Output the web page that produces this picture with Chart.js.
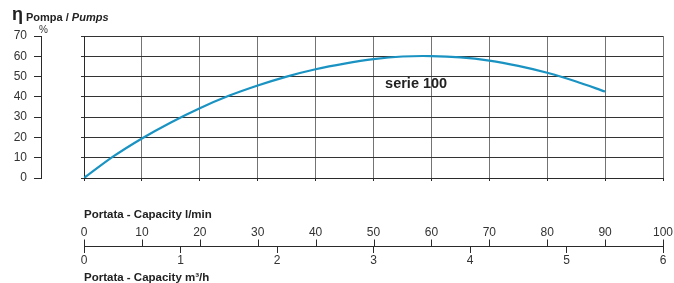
<!DOCTYPE html>
<html lang="it">
  <head>
    <meta charset="UTF-8" />
    <title>Pompa serie 100</title>
    <style>
      html,
      body {
        margin: 0;
        padding: 0;
        background: #fff;
      }
      canvas {
        display: block;
      }
    </style>
  </head>
  <body>
    <canvas id="curve" width="674" height="283"></canvas>

    <script src="https://cdn.jsdelivr.net/npm/chart.js@4.4.1/dist/chart.umd.min.js"></script>
    <script>
      // Efficiency curve
      const flowLmin = [0, 5, 10, 15, 20, 25, 30, 35, 40, 45, 50, 55, 60, 65, 70, 75, 80, 85, 90];
      const efficiency = [0, 10.5, 19.5, 27.4, 34.4, 40.5, 45.6, 50, 53.6, 56.4, 58.6, 59.9, 60.1, 59.5, 57.9, 55.3, 51.9, 47.6, 42.6];
      const seriesName = "serie 100";

      // Axis ticks
      const pctTicks = [0, 10, 20, 30, 40, 50, 60, 70];
      const lminTicks = [0, 10, 20, 30, 40, 50, 60, 70, 80, 90, 100];
      const m3hTicks = [0, 1, 2, 3, 4, 5, 6];

      const FONT = '"Liberation Sans", Arial, sans-serif';
      const textColor = "#333";
      const darkLine = "#2a2a2a";

      const useTicks = (list) => (scale) => {
        scale.ticks = list.map((v) => ({ value: v }));
      };

      // titles, % sign, series label and the upward l/min ticks
      const extras = {
        id: "extras",
        afterDraw(chart) {
          const ctx = chart.ctx;
          const { x, xm, y } = chart.scales;
          ctx.save();
          ctx.fillStyle = "#222";
          ctx.textBaseline = "alphabetic";
          ctx.textAlign = "left";

          ctx.font = "bold 18px " + FONT;
          ctx.fillText("η", 12, 20);
          ctx.font = "bold 11px " + FONT;
          ctx.fillText("Pompa / ", 26, 20.5);
          const w = ctx.measureText("Pompa / ").width;
          ctx.font = "italic bold 11px " + FONT;
          ctx.fillText("Pumps", 26 + w, 20.5);

          ctx.fillStyle = textColor;
          ctx.font = "10px " + FONT;
          ctx.fillText("%", 39, 33);

          ctx.fillStyle = "#222";
          ctx.font = "bold 14.5px " + FONT;
          ctx.textBaseline = "middle";
          ctx.fillText(seriesName, x.getPixelForValue(52), y.getPixelForValue(46.3));

          // upward ticks of the l/min scale on the lower axis line
          ctx.strokeStyle = darkLine;
          ctx.lineWidth = 1;
          ctx.beginPath();
          for (const v of lminTicks) {
            const px = Math.round(x.getPixelForValue(v)) + 0.5;
            ctx.moveTo(px, xm.top - 6.5);
            ctx.lineTo(px, xm.top);
          }
          ctx.stroke();

          ctx.textBaseline = "alphabetic";
          ctx.font = "bold 11.5px " + FONT;
          ctx.fillText("Portata - Capacity l/min", x.left, 217.5);
          ctx.restore();
        },
      };

      new Chart(document.getElementById("curve"), {
        type: "line",
        plugins: [extras],
        data: {
          datasets: [
            {
              label: seriesName,
              data: flowLmin.map((q, i) => ({ x: q, y: efficiency[i] })),
              borderColor: "#1a93c2",
              borderWidth: 2.2,
              pointRadius: 0,
              tension: 0.3,
              fill: false,
            },
          ],
        },
        options: {
          responsive: false,
          animation: false,
          layout: { padding: { top: 36, right: 11, bottom: 0, left: 0 } },
          plugins: {
            legend: { display: false },
            tooltip: { enabled: false },
          },
          scales: {
            x: {
              type: "linear",
              position: "bottom",
              weight: 0,
              min: 0,
              max: 100,
              afterBuildTicks: useTicks(lminTicks),
              afterFit: (s) => {
                s.height = 68;
                // big label padding would otherwise eat the sides
                s.paddingLeft = 0;
                s.paddingRight = 0;
              },
              grid: { color: "#747474", tickLength: 3, tickColor: darkLine },
              border: { color: darkLine },
              ticks: {
                padding: 44,
                color: textColor,
                font: { family: FONT, size: 12 },
                maxRotation: 0,
              },
            },
            xm: {
              type: "linear",
              position: "bottom",
              weight: 1,
              min: 0,
              max: 6,
              afterBuildTicks: useTicks(m3hTicks),
              afterFit: (s) => {
                s.height = 37;
                s.paddingLeft = 0;
                s.paddingRight = 0;
              },
              grid: { drawOnChartArea: false, tickLength: 7, color: darkLine },
              border: { color: darkLine },
              ticks: {
                padding: 0,
                color: textColor,
                font: { family: FONT, size: 12 },
                maxRotation: 0,
              },
              title: {
                display: true,
                align: "start",
                text: "Portata - Capacity m³/h",
                color: "#222",
                padding: { top: 0, bottom: -2 },
                font: { family: FONT, size: 11.5, weight: "bold" },
              },
            },
            y: {
              position: "left",
              weight: 0,
              min: 0,
              max: 70,
              afterBuildTicks: useTicks(pctTicks),
              afterFit: (s) => {
                s.width = 43;
              },
              grid: { color: "#333", tickLength: 3 },
              border: { color: darkLine },
              ticks: { display: false },
            },
            y2: {
              position: "left",
              weight: 1,
              min: 0,
              max: 70,
              afterBuildTicks: useTicks(pctTicks),
              afterFit: (s) => {
                s.width = 41;
              },
              grid: { drawOnChartArea: false, tickLength: 7, color: darkLine },
              border: { color: darkLine },
              ticks: {
                padding: 7,
                color: textColor,
                font: { family: FONT, size: 12 },
              },
            },
          },
        },
      });
    </script>
  </body>
</html>
